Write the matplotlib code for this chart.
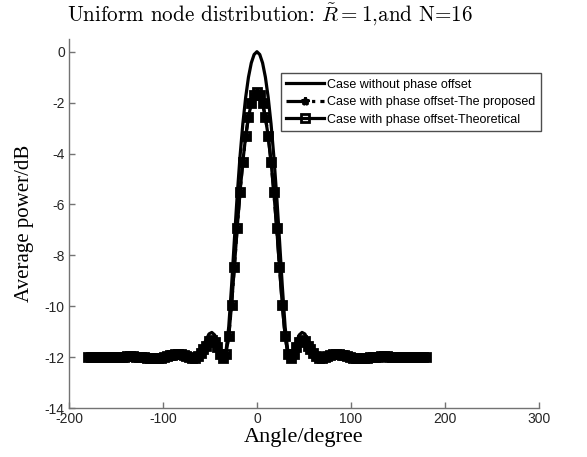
import numpy as np
import matplotlib
matplotlib.use("Agg")
import matplotlib.pyplot as plt

# angle grid in degrees (3 degree step)
angles = np.arange(-180, 181, 3)

# average power (dB) without phase offset
power_no_offset = [
    -12.00, -12.00, -12.00, -12.00, -12.00, -11.99, -11.98, -11.98, -11.98, -11.97,
    -11.96, -11.96, -11.95, -11.94, -11.94, -11.94, -11.94, -11.95, -11.96, -11.97,
    -11.99, -12.01, -12.02, -12.04, -12.04, -12.03, -12.01, -11.98, -11.93, -11.88,
    -11.83, -11.79, -11.78, -11.79, -11.85, -11.92, -11.99, -12.04, -12.03, -11.93,
    -11.76, -11.52, -11.32, -11.09, -11.03, -11.13, -11.40, -11.77, -12.03, -11.81,
    -10.81, -9.21, -7.39, -5.65, -4.12, -2.83, -1.80, -1.00, -0.44, -0.11,
    0.00,
    -0.11, -0.44, -1.00, -1.80, -2.83, -4.12, -5.65, -7.39, -9.21, -10.81,
    -11.81, -12.03, -11.77, -11.40, -11.13, -11.03, -11.09, -11.32, -11.52, -11.76,
    -11.93, -12.03, -12.04, -11.99, -11.92, -11.85, -11.79, -11.78, -11.79, -11.83,
    -11.88, -11.93, -11.98, -12.01, -12.03, -12.04, -12.04, -12.02, -12.01, -11.99,
    -11.97, -11.96, -11.95, -11.94, -11.94, -11.94, -11.94, -11.95, -11.96, -11.96,
    -11.97, -11.98, -11.98, -11.98, -11.99, -12.00, -12.00, -12.00, -12.00, -12.00,
]

# average power (dB) with phase offset, theoretical
power_theory = [
    -12.01, -12.01, -12.01, -12.01, -12.01, -12.01, -12.00, -12.00, -12.00, -11.99,
    -11.99, -11.98, -11.98, -11.98, -11.97, -11.97, -11.97, -11.98, -11.99, -11.99,
    -12.00, -12.02, -12.03, -12.04, -12.04, -12.04, -12.02, -12.00, -11.97, -11.93,
    -11.90, -11.87, -11.87, -11.87, -11.91, -11.96, -12.01, -12.04, -12.03, -11.96,
    -11.85, -11.68, -11.55, -11.38, -11.34, -11.41, -11.60, -11.86, -12.04, -11.88,
    -11.18, -9.95, -8.45, -6.92, -5.52, -4.32, -3.33, -2.57, -2.03, -1.71,
    -1.60,
    -1.71, -2.03, -2.57, -3.33, -4.32, -5.52, -6.92, -8.45, -9.95, -11.18,
    -11.88, -12.04, -11.86, -11.60, -11.41, -11.34, -11.38, -11.55, -11.68, -11.85,
    -11.96, -12.03, -12.04, -12.01, -11.96, -11.91, -11.87, -11.87, -11.87, -11.90,
    -11.93, -11.97, -12.00, -12.02, -12.04, -12.04, -12.04, -12.03, -12.02, -12.00,
    -11.99, -11.99, -11.98, -11.97, -11.97, -11.97, -11.98, -11.98, -11.98, -11.99,
    -11.99, -12.00, -12.00, -12.00, -12.01, -12.01, -12.01, -12.01, -12.01, -12.01,
]

# proposed method lies on top of the theoretical curve
power_proposed = list(power_theory)

labels = ['Case without phase offset',
          'Case with phase offset-The proposed',
          'Case with phase offset-Theoretical']

plt.rcParams['axes.unicode_minus'] = False
plt.rcParams['mathtext.fontset'] = 'cm'

fig = plt.figure(figsize=(5.87, 4.57), dpi=100)
ax = fig.add_axes([0.1175, 0.1072, 0.8005, 0.8075])

ax.plot(angles, power_no_offset, '-', color='k', lw=2.3, label=labels[0])
ax.plot(angles, power_proposed, '-.', color='k', lw=2.3, marker='*',
        ms=6, mew=2, label=labels[1])
ax.plot(angles, power_theory, '-', color='k', lw=2.3, marker='s',
        ms=5.5, mew=2, mfc='none', label=labels[2])

ax.set_xlim(-200, 300)
ax.set_ylim(-14, 0.5)
ax.set_xticks([-200, -100, 0, 100, 200, 300])
ax.set_yticks(np.arange(-14, 1, 2))

for s in ['top', 'right']:
    ax.spines[s].set_visible(False)
for s in ['left', 'bottom']:
    ax.spines[s].set_color('0.45')
    ax.spines[s].set_linewidth(1.0)
ax.tick_params(direction='in', length=4, width=1, color='0.45',
               labelsize=10, labelcolor='0.15', pad=3)
for t in ax.get_xticklabels() + ax.get_yticklabels():
    t.set_fontfamily('Liberation Sans')

ax.set_xlabel('Angle/degree', fontfamily='Liberation Serif', fontsize=16, labelpad=1)
ax.set_ylabel('Average power/dB', fontfamily='Liberation Serif', fontsize=15, labelpad=8)
fig.text(270 / 587, 1 - 15 / 457, r'Uniform node distribution: $\tilde{R}=1$,and N=16',
         fontfamily='cmr10', fontsize=15.2, ha='center', va='center')

leg = ax.legend(loc='upper right', bbox_to_anchor=(1.004, 0.908),
                prop={'family': 'Liberation Sans', 'size': 9},
                handlelength=3.0, handletextpad=0.25, borderpad=0.45,
                labelspacing=0.45, fancybox=False, framealpha=1,
                edgecolor='0.3', borderaxespad=0)
leg.get_frame().set_linewidth(1.0)

fig.savefig('out.png', dpi=100)
